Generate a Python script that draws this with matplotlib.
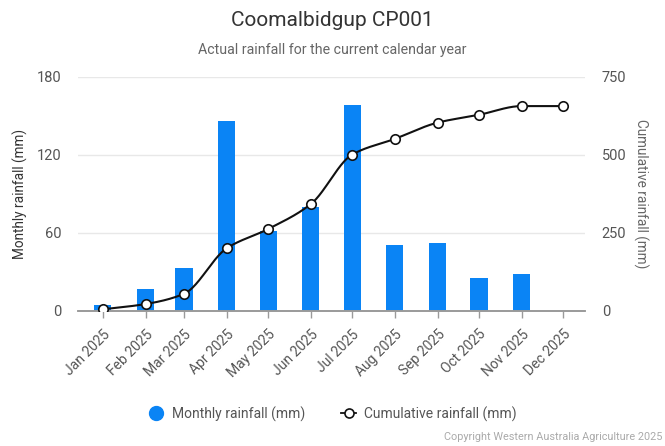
import datetime as dt

import numpy as np
import matplotlib
matplotlib.use("Agg")
import matplotlib.pyplot as plt
from matplotlib.lines import Line2D

plt.rcParams["font.family"] = ["Roboto", "DejaVu Sans"]

# ---- data -------------------------------------------------------------
months = ["Jan 2025", "Feb 2025", "Mar 2025", "Apr 2025", "May 2025", "Jun 2025",
          "Jul 2025", "Aug 2025", "Sep 2025", "Oct 2025", "Nov 2025", "Dec 2025"]
monthly_rain = [4.5, 16.8, 33, 146, 61.5, 80, 158.5, 50.5, 52, 25, 28, 0]
cumulative_rain = np.cumsum(monthly_rain)

left_ticks = [0, 60, 120, 180]
right_ticks = [0, 250, 500, 750]

# time axis: days since 1 Jan for each month start
month_starts = [dt.date(2025, m, 1) for m in range(1, 13)]
xpos = np.array([(d - month_starts[0]).days for d in month_starts], dtype=float)


def monotone_curve(x, y, n=40):
    """Monotone cubic (Fritsch-Carlson style) interpolation for a smooth line."""
    x = np.asarray(x, float)
    y = np.asarray(y, float)
    h = np.diff(x)
    delta = np.diff(y) / h
    m = np.zeros_like(y)
    m[0], m[-1] = delta[0], delta[-1]
    for k in range(1, len(x) - 1):
        if delta[k - 1] * delta[k] <= 0:
            m[k] = 0.0
        else:
            w1 = 2 * h[k] + h[k - 1]
            w2 = h[k] + 2 * h[k - 1]
            m[k] = (w1 + w2) / (w1 / delta[k - 1] + w2 / delta[k])
    xs, ys = [], []
    for k in range(len(x) - 1):
        t = np.linspace(0, 1, n, endpoint=(k == len(x) - 2))
        h00 = 2 * t**3 - 3 * t**2 + 1
        h10 = t**3 - 2 * t**2 + t
        h01 = -2 * t**3 + 3 * t**2
        h11 = t**3 - t**2
        xs.append(x[k] + t * h[k])
        ys.append(h00 * y[k] + h10 * h[k] * m[k] + h01 * y[k + 1] + h11 * h[k] * m[k + 1])
    return np.concatenate(xs), np.concatenate(ys)


# ---- figure -----------------------------------------------------------
W, H = 665, 446
fig = plt.figure(figsize=(W / 100, H / 100), dpi=100)
fig.patch.set_facecolor("white")

x0, x1, ytop, ybot = 78, 585, 76.7, 310.7
ax = fig.add_axes([x0 / W, 1 - ybot / H, (x1 - x0) / W, (ybot - ytop) / H])
ax2 = ax.twinx()

bar_color = "#0a84f5"
ax.bar(xpos, monthly_rain, width=12.5, color=bar_color, zorder=2)

ax.set_xlim(-18, 350)
ax.set_ylim(0, 180)
ax.set_yticks(left_ticks)
ax2.set_ylim(0, 750)
ax2.set_yticks(right_ticks)

ax.grid(axis="y", color="#e8e8e8", linewidth=1, zorder=0)
ax.set_axisbelow(True)

for a in (ax, ax2):
    for side in ("top", "left", "right"):
        a.spines[side].set_visible(False)
    a.spines["bottom"].set_color("#9a9a9a")
    a.spines["bottom"].set_linewidth(1.2)

ax.set_xticks(xpos)
ax.set_xticklabels(months, rotation=45, ha="right", rotation_mode="anchor",
                   fontsize=10, color="#555555")
ax.tick_params(axis="x", length=5, width=1, color="#9a9a9a", pad=7)
ax.tick_params(axis="y", length=0, pad=12, labelsize=10.5, labelcolor="#555555")
ax2.tick_params(axis="y", length=0, pad=12, labelsize=10.5, labelcolor="#555555")

ax.set_ylabel("Monthly rainfall (mm)", fontsize=9.8, color="#333333", labelpad=6)
ax2.set_ylabel("Cumulative rainfall (mm)", fontsize=9.8, color="#666666",
               rotation=270, labelpad=16)

cx, cy = monotone_curve(xpos, cumulative_rain)
ax2.plot(cx, cy, color="#111111", linewidth=1.5, zorder=3)
ax2.plot(xpos, cumulative_rain, linestyle="none", marker="o", markersize=6.8,
         markerfacecolor="white", markeredgecolor="#111111", markeredgewidth=1.2,
         zorder=4)

# ---- titles -----------------------------------------------------------
fig.text(0.5, 1 - 21 / H, "Coomalbidgup CP001", ha="center", va="center",
         fontsize=15, color="#333333")
fig.text(0.5, 1 - 50 / H, "Actual rainfall for the current calendar year",
         ha="center", va="center", fontsize=10.2, color="#666666")

# ---- legend -----------------------------------------------------------
handles = [
    Line2D([], [], linestyle="none", marker="o", markersize=10,
           markerfacecolor=bar_color, markeredgecolor=bar_color),
    Line2D([], [], color="#111111", linewidth=1.3, marker="o", markersize=6.5,
           markerfacecolor="white", markeredgecolor="#111111", markeredgewidth=1.2),
]
fig.legend(handles, ["Monthly rainfall (mm)", "Cumulative rainfall (mm)"],
           loc="center", bbox_to_anchor=(0.5, 1 - 414 / H), ncol=2, frameon=False,
           fontsize=10, labelcolor="#555555", handlelength=1.1, handletextpad=0.6,
           columnspacing=2.6)

fig.text(1 - 3 / W, 1 - 437 / H, "Copyright Western Australia Agriculture 2025",
         ha="right", va="center", fontsize=7.8, color="#aaaaaa")

fig.savefig("out.png", dpi=100, facecolor="white")
